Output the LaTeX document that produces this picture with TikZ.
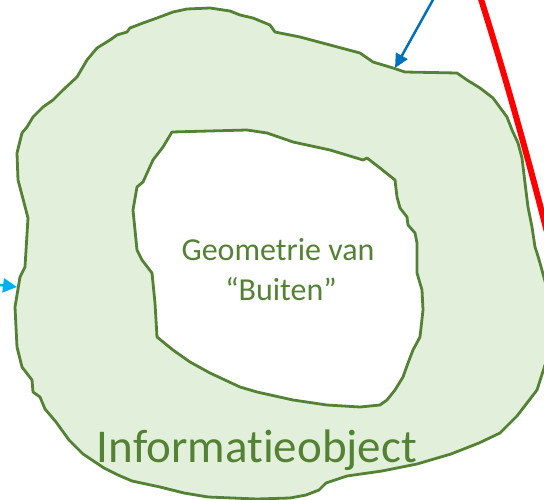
\documentclass[tikz,border=0pt]{standalone}
\usepackage{fontspec}
\setmainfont{Carlito}[Ligatures=NoCommon]
\usetikzlibrary{arrows.meta}
\definecolor{gline}{HTML}{548235}
\definecolor{gfill}{HTML}{E2EFDA}
\definecolor{bluearr}{HTML}{0070C0}
\definecolor{cyanarr}{HTML}{00B0F0}
\begin{document}
\begin{tikzpicture}[x=1pt,y=-1pt,
  blob/.style={draw=gline, fill=gfill, line width=2.8pt, line join=round, even odd rule},
  lbl/.style={text=gline, anchor=base, inner sep=0pt},
  bluearrow/.style={draw=bluearr, line width=2.5pt, -{Triangle[length=14pt,width=13pt]}},
  cyanarrow/.style={draw=cyanarr, line width=2.5pt, -{Triangle[length=14pt,width=14pt]}},
  redline/.style={draw=red, line width=6pt}]
\useasboundingbox (0,0) rectangle (544,500);
\begin{scope}
\clip (0,0) rectangle (544,500);
\draw[blob]
 (18,180) -- (17,153) -- (22,133) -- (27,127) -- (33,117) -- (43,107) -- (53,100) -- (63,90) -- (77,77) -- (87,60) -- (97,48) -- (110,40) -- (117,35) -- (127,32) -- (130,28) -- (143,23) -- (157,18) -- (173,12) -- (187,9) -- (210,8) -- (230,11) -- (240,15) -- (253,18) -- (270,25) -- (275,32) -- (300,37) -- (330,45) -- (360,53) -- (373,62) -- (393,68) -- (405,72) -- (457,73) -- (467,80) -- (480,88) -- (493,98) -- (507,117) -- (512,130) -- (518,143) -- (522,158) -- (525,183) -- (528,207) -- (532,227) -- (535,247) -- (537,253) -- (540,263) -- (546,285) -- (549,330) -- (546,362) -- (537,390) -- (527,403) -- (517,416) -- (500,433) -- (479,443) -- (451,454) -- (417,464) -- (382,471) -- (347,476) -- (326,483) -- (319,490) -- (306,495) -- (290,498) -- (257,499) -- (208,497) -- (184,493) -- (160,487) -- (132,481) -- (118,475) -- (104,468) -- (83,454) -- (69,440) -- (56,422) -- (45,409) -- (40,397) -- (33,392) -- (32,380) -- (22,367) -- (17,347) -- (15,307) -- (20,277) -- (25,267) -- (28,218) -- (22,195) -- cycle
 (172,132) -- (247,130) -- (267,133) -- (293,142) -- (330,150) -- (363,160) -- (367,158) -- (380,168) -- (395,180) -- (397,197) -- (400,208) -- (407,217) -- (408,225) -- (415,233) -- (417,243) -- (417,273) -- (422,290) -- (423,310) -- (420,337) -- (413,350) -- (408,363) -- (403,377) -- (395,390) -- (387,400) -- (380,405) -- (360,407) -- (327,405) -- (293,400) -- (257,392) -- (240,387) -- (210,373) -- (190,362) -- (173,350) -- (157,337) -- (155,303) -- (153,283) -- (152,273) -- (142,260) -- (137,250) -- (133,210) -- (137,187) -- (143,182) -- (153,160) -- (163,147) -- cycle;
\coordinate (redA) at (480,-4);
\coordinate (redB) at (548,236);
\draw[redline] (redA) .. controls (505,75) and (526,150) .. (redB);
\coordinate (blueA) at (434,-2);
\coordinate (blueB) at (395,68);
\draw[bluearrow] (blueA) -- (blueB);
\coordinate (cyanA) at (-25,282);
\coordinate (cyanB) at (17,287);
\draw[cyanarrow] (cyanA) -- (cyanB);
\end{scope}
\node[lbl, font=\fontsize{32}{38}\selectfont] (geo1) at (278,260) {Geometrie van};
\node[lbl, font=\fontsize{32}{38}\selectfont] (geo2) at (281,300) {“Buiten”};
\node[lbl, font=\fontsize{47}{56}\selectfont] (info) at (257,462) {Informatieobject};
\end{tikzpicture}
\end{document}
